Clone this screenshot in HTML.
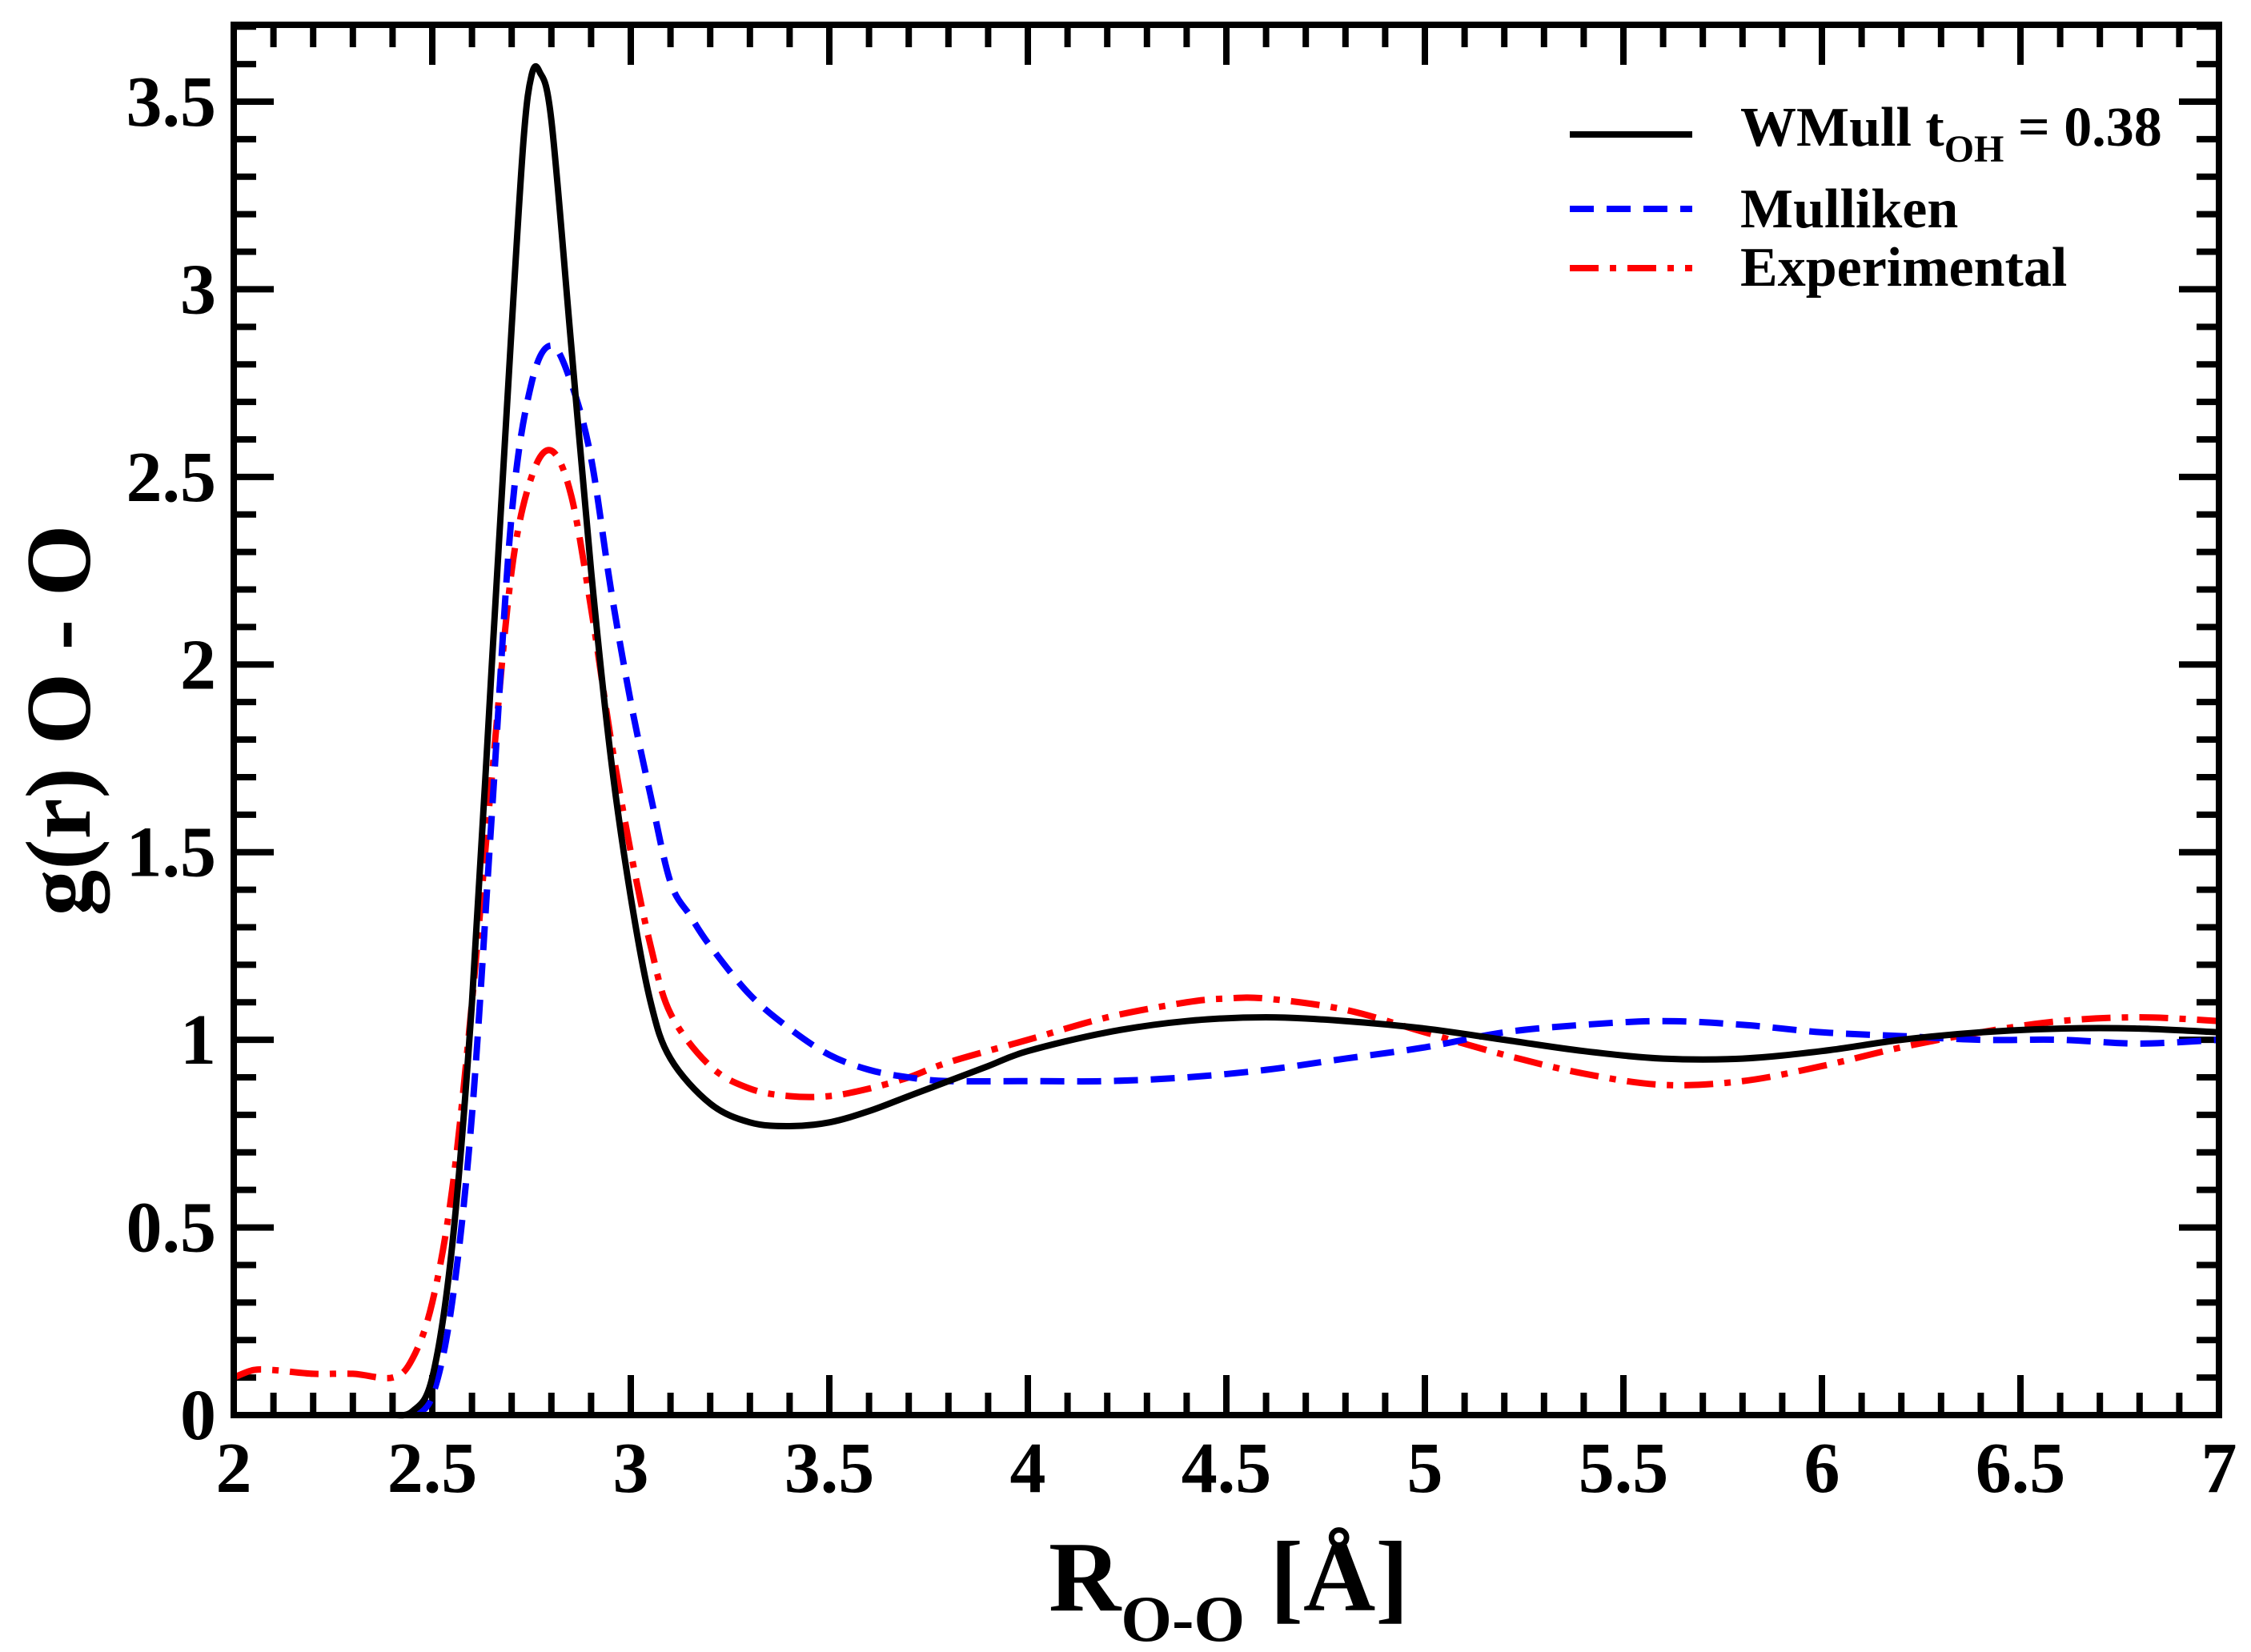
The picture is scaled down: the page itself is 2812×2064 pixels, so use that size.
<!DOCTYPE html>
<html><head><meta charset="utf-8"><style>
html,body{margin:0;padding:0;background:#fff;}
svg{display:block;font-family:"Liberation Serif",serif;font-weight:bold;}
</style></head><body>
<svg id="chart" width="2812" height="2064" viewBox="0 0 2812 2064" xmlns="http://www.w3.org/2000/svg">
<g id="ticks"></g>
<g id="series"></g>
<rect x="292" y="31" width="2480" height="1737" fill="none" stroke="#000" stroke-width="8"/>
<g id="labels" font-size="90" fill="#000"></g>
<text transform="translate(112,900) rotate(-90)" text-anchor="middle" font-size="115">g(r) O - O</text>
<text x="1310" y="2012" font-size="125">R<tspan font-size="82" dy="38">O-O</tspan><tspan dy="-38"> [Å]</tspan></text>
<g font-size="70">
 <line x1="1961" y1="168" x2="2114" y2="168" stroke="#000" stroke-width="8"/>
 <text x="2174" y="182">WMull t<tspan font-size="48" dy="20">OH</tspan><tspan dy="-20"> = 0.38</tspan></text>
 <line x1="1961" y1="261" x2="2114" y2="261" stroke="#0000ff" stroke-width="8" stroke-dasharray="30,16"/>
 <text x="2174" y="284">Mulliken</text>
 <line x1="1961" y1="335" x2="2114" y2="335" stroke="#ff0000" stroke-width="8" stroke-dasharray="36,14,8,14"/>
 <text x="2174" y="357">Experimental</text>
</g>
</svg>
<script>
const xTicks = [2,2.5,3,3.5,4,4.5,5,5.5,6,6.5,7];
const yTicks = [0,0.5,1,1.5,2,2.5,3,3.5];
const wmullX = [2.4,2.45,2.5,2.55,2.6,2.65,2.7,2.73,2.75,2.77,2.8,2.85,2.9,2.95,3.0,3.05,3.1,3.2,3.3,3.4,3.5,3.6,3.7,3.8,3.9,4.0,4.2,4.4,4.6,4.8,5.0,5.2,5.4,5.6,5.8,6.0,6.2,6.4,6.6,6.8,7.0];
const wmullY = [0,0.01,0.1,0.45,1.1,2.0,2.9,3.4,3.57,3.58,3.45,2.85,2.25,1.75,1.38,1.1,0.95,0.83,0.78,0.77,0.78,0.81,0.85,0.89,0.93,0.97,1.02,1.05,1.06,1.05,1.03,1.0,0.97,0.95,0.95,0.97,1.0,1.02,1.03,1.03,1.02];
const mullX = [2.45,2.5,2.55,2.6,2.65,2.7,2.75,2.8,2.85,2.9,2.95,3.0,3.05,3.1,3.15,3.2,3.3,3.4,3.5,3.6,3.7,3.8,4.0,4.2,4.4,4.6,4.8,5.0,5.2,5.4,5.6,5.8,6.0,6.2,6.4,6.6,6.8,7.0];
const mullY = [0,0.05,0.3,0.8,1.6,2.4,2.75,2.85,2.75,2.55,2.2,1.9,1.65,1.42,1.33,1.25,1.12,1.03,0.96,0.92,0.9,0.89,0.89,0.89,0.9,0.92,0.95,0.98,1.02,1.04,1.05,1.04,1.02,1.01,1.0,1.0,0.99,1.0];
const expX = [2.0,2.05,2.1,2.2,2.3,2.4,2.45,2.5,2.55,2.6,2.65,2.7,2.75,2.8,2.85,2.9,2.95,3.0,3.05,3.1,3.2,3.3,3.4,3.5,3.6,3.7,3.8,4.0,4.2,4.4,4.5,4.6,4.8,5.0,5.2,5.4,5.6,5.8,6.0,6.2,6.4,6.6,6.8,7.0];
const expY = [0.1,0.12,0.12,0.11,0.11,0.1,0.15,0.3,0.6,1.1,1.7,2.25,2.5,2.57,2.45,2.15,1.8,1.5,1.25,1.07,0.93,0.87,0.85,0.85,0.87,0.9,0.94,1.0,1.06,1.1,1.11,1.11,1.08,1.02,0.96,0.91,0.88,0.89,0.93,0.98,1.02,1.05,1.06,1.05];

const X0=292,X1=2772,Y0=1768,Y1=127;
function sx(v){return X0+(v-2)/5*(X1-X0);}
function sy(v){return Y0-v/3.5*(Y0-Y1);}
const NS='http://www.w3.org/2000/svg';
const tg=document.getElementById('ticks'), lg=document.getElementById('labels'), sg=document.getElementById('series');
function line(x1,y1,x2,y2){const l=document.createElementNS(NS,'line');l.setAttribute('x1',x1);l.setAttribute('y1',y1);l.setAttribute('x2',x2);l.setAttribute('y2',y2);l.setAttribute('stroke','#000');l.setAttribute('stroke-width','8');


tg.appendChild(l);}
for(let i=0;i<=50;i++){const v=2+i*0.1;const x=sx(v);const L=(i%5===0)?50:28;line(x,Y0,x,Y0-L);line(x,31,x,31+L);}
for(let i=0;i<=37;i++){const v=i*0.1;const y=sy(v);if(y<31)continue;const L=(i%5===0)?50:28;line(X0,y,X0+L,y);line(X1,y,X1-L,y);}
xTicks.forEach(v=>{const t=document.createElementNS(NS,'text');t.setAttribute('x',sx(v));t.setAttribute('y',1864);t.setAttribute('text-anchor','middle');t.textContent=String(v);


lg.appendChild(t);});
yTicks.forEach(v=>{const t=document.createElementNS(NS,'text');t.setAttribute('x',270);t.setAttribute('y',sy(v)+30);t.setAttribute('text-anchor','end');t.textContent=String(v);


lg.appendChild(t);});
function smoothPath(xs,ys){const P=xs.map((x,i)=>[sx(x),sy(ys[i])]);let d='M'+P[0][0]+','+P[0][1];
for(let i=0;i<P.length-1;i++){const p0=P[Math.max(0,i-1)],p1=P[i],p2=P[i+1],p3=P[Math.min(P.length-1,i+2)];
const c1=[p1[0]+(p2[0]-p0[0])/6,p1[1]+(p2[1]-p0[1])/6],c2=[p2[0]-(p3[0]-p1[0])/6,p2[1]-(p3[1]-p1[1])/6];
d+=' C'+c1[0]+','+c1[1]+' '+c2[0]+','+c2[1]+' '+p2[0]+','+p2[1];}return d;}
function series(xs,ys,color,dash,name){const p=document.createElementNS(NS,'path');p.setAttribute('d',smoothPath(xs,ys));p.setAttribute('fill','none');p.setAttribute('stroke',color);p.setAttribute('stroke-width','8');p.setAttribute('stroke-linejoin','round');if(dash)p.setAttribute('stroke-dasharray',dash);


sg.appendChild(p);}
series(expX,expY,'#ff0000','36,14,8,14','experimental-line');
series(mullX,mullY,'#0000ff','30,16','mulliken-line');
series(wmullX,wmullY,'#000','', 'wmull-line');
</script>
</body></html>
